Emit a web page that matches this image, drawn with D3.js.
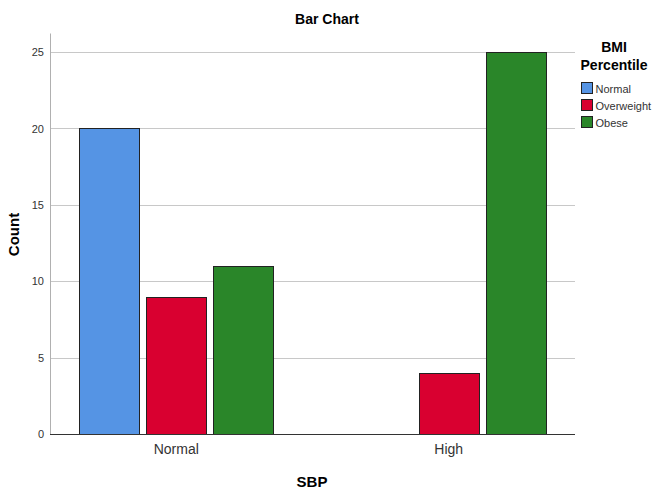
<!DOCTYPE html>
<html>
<head>
<meta charset="utf-8">
<script src="https://cdn.jsdelivr.net/npm/d3@7"></script>
<style>
body { margin: 0; background: #fff; }
text { font-family: "Liberation Sans", Arial, sans-serif; }
</style>
</head>
<body>
<script>
let sbp = ["Normal", "High"];
let bmi = ["Normal", "Overweight", "Obese"];
let counts = {
  "Normal": [20, 9, 11],
  "High": [0, 4, 25]
};
let yTicks = [0, 5, 10, 15, 20, 25];
let colors = ["#5594e4", "#d90030", "#2a8629"];

let w = 654, h = 494;
let padL = 50, padR = 575, padT = 33, padB = 434;

let svg = d3.select("body").append("svg")
  .attr("width", w)
  .attr("height", h);

let x0 = d3.scaleBand().domain(sbp).range([padL, padR])
  .paddingInner(0.287).paddingOuter(0.107);
let x1 = d3.scaleBand().domain(bmi).range([0, x0.bandwidth()])
  .paddingInner(0.104).paddingOuter(0);
let y = d3.scaleLinear().domain([0, 26.25]).range([padB, padT]);

// gridlines
svg.append("g").selectAll("line")
  .data(yTicks.filter(d => d > 0))
  .enter().append("line")
  .attr("x1", padL).attr("x2", padR)
  .attr("y1", d => Math.round(y(d)) + 0.5).attr("y2", d => Math.round(y(d)) + 0.5)
  .attr("stroke", "#c8c8c8").attr("stroke-width", 1);

// bars
let rows = [];
sbp.forEach(s => {
  counts[s].forEach((v, i) => {
    if (v > 0) rows.push({ s: s, b: bmi[i], v: v, c: colors[i] });
  });
});

svg.append("g").selectAll("rect")
  .data(rows)
  .enter().append("rect")
  .attr("x", d => Math.round(x0(d.s) + x1(d.b)) + 0.5)
  .attr("y", d => Math.round(y(d.v)) + 0.5)
  .attr("width", Math.round(x1.bandwidth()))
  .attr("height", d => Math.round(y(0)) - Math.round(y(d.v)))
  .attr("fill", d => d.c)
  .attr("stroke", "#222")
  .attr("stroke-width", 1);

// y axis
let yAxis = d3.axisLeft(y).tickValues(yTicks).tickSize(0).tickPadding(6);
let gy = svg.append("g")
  .attr("transform", "translate(" + padL + ",0)")
  .call(yAxis);
gy.select(".domain").attr("stroke", "#b0b0b0");
gy.selectAll("text").attr("font-size", 11).attr("fill", "#333")
  .attr("font-family", "Liberation Sans, Arial, sans-serif");

// x axis
let xAxis = d3.axisBottom(x0).tickSize(0).tickPadding(10);
let gx = svg.append("g")
  .attr("transform", "translate(0," + padB + ")")
  .call(xAxis);
gx.select(".domain").attr("stroke", "#333").attr("d", "M" + padL + ",0.5H" + padR);
gx.selectAll("text").attr("font-size", 14).attr("fill", "#333")
  .attr("font-family", "Liberation Sans, Arial, sans-serif");

// titles
svg.append("text").attr("x", 327).attr("y", 24)
  .attr("text-anchor", "middle").attr("font-size", 14).attr("font-weight", "bold")
  .text("Bar Chart");

svg.append("text").attr("x", 312).attr("y", 487)
  .attr("text-anchor", "middle").attr("font-size", 15).attr("font-weight", "bold")
  .text("SBP");

svg.append("text")
  .attr("transform", "translate(19," + ((padT + padB) / 2 + 1) + ") rotate(-90)")
  .attr("text-anchor", "middle").attr("font-size", 15).attr("font-weight", "bold")
  .text("Count");

// legend
svg.append("text").attr("x", 614).attr("y", 52)
  .attr("text-anchor", "middle").attr("font-size", 14).attr("font-weight", "bold")
  .text("BMI");
svg.append("text").attr("x", 614).attr("y", 70)
  .attr("text-anchor", "middle").attr("font-size", 14).attr("font-weight", "bold")
  .text("Percentile");

let lg = svg.append("g").selectAll("g")
  .data(bmi)
  .enter().append("g")
  .attr("transform", (d, i) => "translate(581.5," + (82.5 + i * 17) + ")");
lg.append("rect").attr("width", 11).attr("height", 11)
  .attr("fill", (d, i) => colors[i]).attr("stroke", "#222").attr("stroke-width", 1);
lg.append("text").attr("x", 14).attr("y", 10)
  .attr("font-size", 11).attr("fill", "#333")
  .text(d => d);
</script>
</body>
</html>
